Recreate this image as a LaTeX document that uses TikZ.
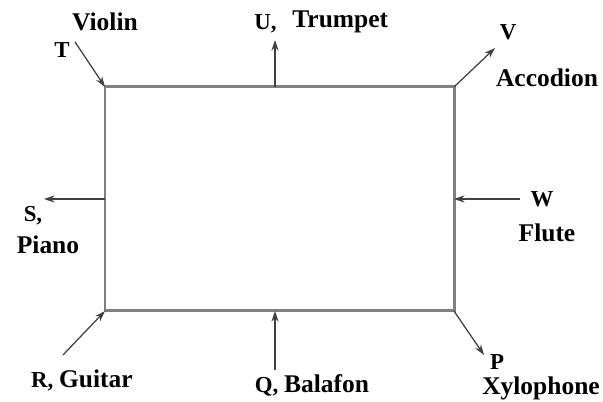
\documentclass[tikz,border=0pt]{standalone}
\usepackage{fontspec}
\setmainfont{Liberation Serif}
\usepackage{tikz}
\usetikzlibrary{arrows.meta}

\begin{document}
\begin{tikzpicture}[x=0.02cm, y=-0.02cm,
  box/.style={draw=gray, line width=0.06 cm},
  push/.style={black!75, line width=0.025 cm, -{Stealth[length=6pt,width=4pt]}},
  word/.style={font=\bfseries\fontsize{14.5}{17}\selectfont, inner sep=0pt},
  letter/.style={font=\bfseries\fontsize{13}{15}\selectfont, inner sep=0pt}]

\useasboundingbox (0,0) rectangle (603,402);

% the frame
\coordinate (tl) at (105,87);
\coordinate (tr) at (454,87);
\coordinate (br) at (454,311);
\coordinate (bl) at (105,311);
\coordinate (top) at (275,87);
\coordinate (bot) at (275,311);
\coordinate (left) at (105,199);
\coordinate (right) at (454,199);
\draw[box] (tl) -- (tr) -- (br) -- (bl) -- cycle;

% free ends of the arrows
\coordinate (tend) at (75,42);
\coordinate (uend) at (275,40);
\coordinate (vend) at (495,48);
\coordinate (wend) at (520,199);
\coordinate (send) at (44,199);
\coordinate (rend) at (63,355);
\coordinate (qend) at (275,370);
\coordinate (pend) at (484,355);

\draw[push] (tend) -- (tl);
\draw[push] (top) -- (uend);
\draw[push] (tr) -- (vend);
\draw[push] (wend) -- (right);
\draw[push] (left) -- (send);
\draw[push] (rend) -- (bl);
\draw[push] (qend) -- (bot);
\draw[push] (br) -- (pend);

% labels
\node[word] (violin) at (105,22) {Violin};
\node[letter] (t) at (62,50) {T};
\node[letter, anchor=west] (u) at (254,24) {U,};
\node[word, anchor=west] (trumpet) at (292,22) {Trumpet};
\node[letter] (v) at (508,32) {V};
\node[word] (accodion) at (547,78) {Accodion};
\node[letter] (w) at (542,199) {W};
\node[word] (flute) at (547,233) {Flute};
\node[letter] (s) at (33,216) {S,};
\node[word] (piano) at (48,245) {Piano};
\node[word] (guitar) at (82,380) {\fontsize{13}{15}\selectfont R, \fontsize{14.5}{17}\selectfont Guitar};
\node[word] (balafon) at (312,385) {\fontsize{13}{15}\selectfont Q, \fontsize{14.5}{17}\selectfont Balafon};
\node[letter] (p) at (497,362) {P};
\node[word] (xylophone) at (541,388) {Xylophone};

\end{tikzpicture}
\end{document}
